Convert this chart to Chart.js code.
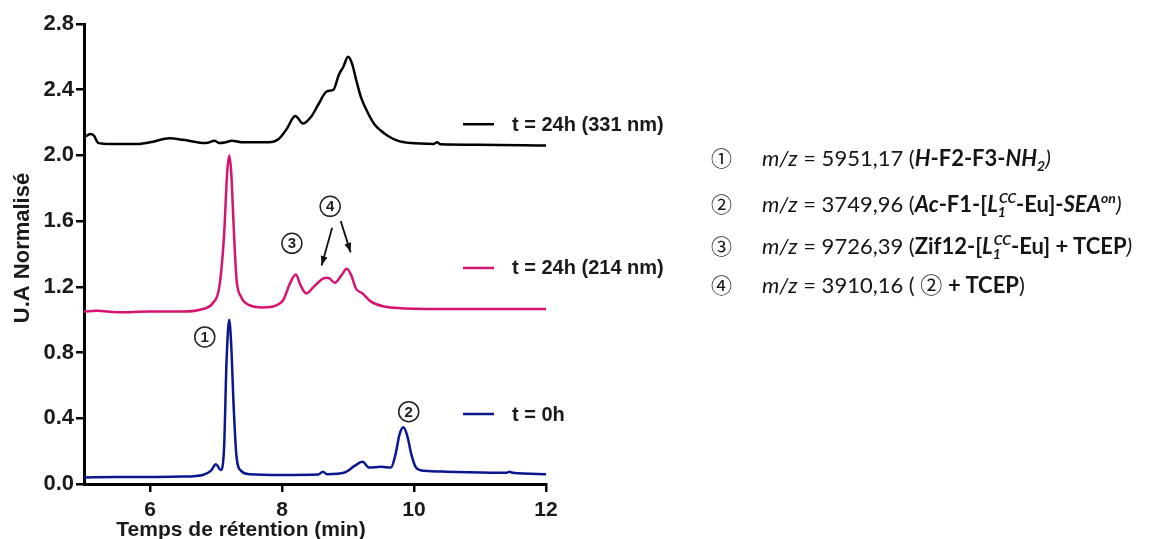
<!DOCTYPE html>
<html>
<head>
<meta charset="utf-8">
<script src="https://cdn.jsdelivr.net/npm/chart.js@4.4.1/dist/chart.umd.min.js"></script>
<style>
  body { margin: 0; background: #fff; }
  #wrap { position: relative; width: 1164px; height: 539px; }
  #chromato { position: absolute; left: 0; top: 0; }
  .mz { position: absolute; left: 711px; font-family: Lato, "Open Sans", sans-serif; font-size: 22px; color: #151515; line-height: 28px; white-space: nowrap; }
  .mz .num { display: inline-block; width: 51px; font-family: "Noto Sans CJK JP", "DejaVu Sans", sans-serif; font-size: 21px; }
  .mz sub, .mz sup { font-size: 14px; }
  .mz sup { vertical-align: 9px; }
  .mz sub { vertical-align: -5px; }
  .mz .stack sup { margin-left: -7px; }
</style>
</head>
<body>
<div id="wrap">
  <canvas id="chromato" width="1164" height="539"></canvas>
  <div class="mz" style="top:143px"><span class="num">①</span><i>m/z</i> = 5951,17 (<b><i>H</i>-F2-F3-<i>NH<sub>2</sub></i></b><i>)</i></div>
  <div class="mz" style="top:184px"><span class="num">②</span><i>m/z</i> = 3749,96 (<b><i>Ac</i>-F1-[<i>L<span class="stack"><sub>1</sub><sup>CC</sup></span></i>-Eu]-<i>SEA<sup>on</sup></i></b><i>)</i></div>
  <div class="mz" style="top:226px"><span class="num">③</span><i>m/z</i> = 9726,39 (<b>Zif12-[<i>L<span class="stack"><sub>1</sub><sup>CC</sup></span></i>-Eu] + TCEP</b><i>)</i></div>
  <div class="mz" style="top:269px"><span class="num">④</span><i>m/z</i> = 3910,16 ( <span style="font-family:'Noto Sans CJK JP'">②</span> <b>+ TCEP</b>)</div>
</div>
<script>
// retention time (min) and normalised absorbance for each trace
const times331 = [5.00, 5.10, 5.15, 5.22, 5.40, 5.80, 6.00, 6.30, 6.50, 6.85, 6.98, 7.05, 7.15, 7.24, 7.40, 7.80, 7.95, 8.07, 8.20, 8.32, 8.45, 8.55, 8.68, 8.78, 8.86, 8.93, 9.00, 9.06, 9.13, 9.20, 9.30, 9.40, 9.50, 9.60, 9.75, 9.95, 10.30, 10.35, 10.40, 11.00, 12.00];
const ua331 = [2.11, 2.13, 2.12, 2.075, 2.07, 2.07, 2.08, 2.105, 2.095, 2.075, 2.09, 2.075, 2.08, 2.09, 2.08, 2.08, 2.10, 2.16, 2.24, 2.195, 2.24, 2.31, 2.39, 2.40, 2.49, 2.54, 2.60, 2.56, 2.45, 2.35, 2.26, 2.19, 2.15, 2.12, 2.09, 2.075, 2.07, 2.08, 2.068, 2.065, 2.06];

const times214 = [5.00, 5.20, 5.50, 6.00, 6.50, 6.80, 6.95, 7.05, 7.12, 7.17, 7.20, 7.23, 7.27, 7.31, 7.38, 7.50, 7.70, 7.90, 8.02, 8.12, 8.21, 8.28, 8.37, 8.48, 8.62, 8.70, 8.80, 8.90, 8.98, 9.05, 9.12, 9.22, 9.35, 9.55, 9.80, 10.50, 11.50, 12.00];
const ua214 = [1.05, 1.055, 1.045, 1.05, 1.05, 1.065, 1.10, 1.20, 1.50, 1.90, 2.00, 1.90, 1.55, 1.25, 1.14, 1.09, 1.075, 1.085, 1.12, 1.22, 1.275, 1.21, 1.16, 1.20, 1.25, 1.255, 1.225, 1.27, 1.31, 1.27, 1.19, 1.16, 1.11, 1.08, 1.07, 1.065, 1.065, 1.065];

const times0 = [5.00, 5.50, 6.00, 6.50, 6.80, 6.92, 7.00, 7.07, 7.12, 7.16, 7.20, 7.23, 7.27, 7.31, 7.38, 7.50, 8.00, 8.55, 8.62, 8.68, 8.95, 9.10, 9.22, 9.32, 9.50, 9.65, 9.72, 9.78, 9.84, 9.90, 9.96, 10.03, 10.15, 10.50, 11.40, 11.45, 11.50, 12.00];
const ua0 = [0.04, 0.042, 0.043, 0.045, 0.055, 0.08, 0.12, 0.085, 0.20, 0.75, 1.00, 0.85, 0.45, 0.17, 0.08, 0.06, 0.055, 0.058, 0.075, 0.06, 0.07, 0.11, 0.135, 0.10, 0.105, 0.10, 0.18, 0.30, 0.345, 0.29, 0.18, 0.10, 0.08, 0.075, 0.068, 0.075, 0.068, 0.06];

const seriesLabels = ["t = 24h (331 nm)", "t = 24h (214 nm)", "t = 0h"];
const xTicks = [6, 8, 10, 12];
const yTicks = [0, 0.4, 0.8, 1.2, 1.6, 2.0, 2.4, 2.8];
const peakNames = ["1", "2", "3", "4"];

// where the small legends and peak marks sit (data units)
const legendAt = [2.19, 1.315, 0.426];
const peakAt = [[6.83, 0.895], [9.92, 0.44], [8.15, 1.465], [8.73, 1.69]];
const arrows = [[[8.76, 1.56], [8.60, 1.33]], [[8.89, 1.60], [9.04, 1.41]]];

const colors = ["#000000", "#d5146f", "#0b178c"];
const font = '"Liberation Sans", Arial, sans-serif';

function pts(xs, ys) {
  return xs.map((t, i) => ({ x: t, y: ys[i] }));
}

const decor = {
  id: "decor",
  afterDraw(chart) {
    const ctx = chart.ctx;
    const x = chart.scales.x;
    const y = chart.scales.y;
    ctx.save();

    // legends next to each trace
    chart.data.datasets.forEach((ds, i) => {
      const py = y.getPixelForValue(legendAt[i]);
      ctx.strokeStyle = ds.borderColor;
      ctx.lineWidth = 2.5;
      ctx.beginPath();
      ctx.moveTo(463, py);
      ctx.lineTo(494, py);
      ctx.stroke();
      ctx.fillStyle = "#1a1a1a";
      ctx.font = "bold 20px " + font;
      ctx.textAlign = "left";
      ctx.textBaseline = "middle";
      ctx.fillText(ds.label, 512, py + 1);
    });

    // circled peak numbers
    peakAt.forEach((p, i) => {
      const cx = x.getPixelForValue(p[0]);
      const cy = y.getPixelForValue(p[1]);
      ctx.strokeStyle = "#222";
      ctx.lineWidth = 1.5;
      ctx.beginPath();
      ctx.arc(cx, cy, 10, 0, Math.PI * 2);
      ctx.stroke();
      ctx.fillStyle = "#222";
      ctx.font = "bold 15px " + font;
      ctx.textAlign = "center";
      ctx.textBaseline = "middle";
      ctx.fillText(peakNames[i], cx, cy + 1);
    });

    // arrows from peak 4
    arrows.forEach(a => {
      const x1 = x.getPixelForValue(a[0][0]), y1 = y.getPixelForValue(a[0][1]);
      const x2 = x.getPixelForValue(a[1][0]), y2 = y.getPixelForValue(a[1][1]);
      ctx.strokeStyle = "#111";
      ctx.lineWidth = 1.8;
      ctx.beginPath();
      ctx.moveTo(x1, y1);
      ctx.lineTo(x2, y2);
      ctx.stroke();
      const ang = Math.atan2(y2 - y1, x2 - x1);
      ctx.fillStyle = "#111";
      ctx.beginPath();
      ctx.moveTo(x2, y2);
      ctx.lineTo(x2 - 10 * Math.cos(ang - 0.35), y2 - 10 * Math.sin(ang - 0.35));
      ctx.lineTo(x2 - 10 * Math.cos(ang + 0.35), y2 - 10 * Math.sin(ang + 0.35));
      ctx.closePath();
      ctx.fill();
    });

    // axis titles
    ctx.fillStyle = "#1a1a1a";
    ctx.font = "bold 21px " + font;
    ctx.textAlign = "center";
    ctx.textBaseline = "alphabetic";
    ctx.fillText("Temps de rétention (min)", chart.chartArea.left + 157, 536);

    ctx.font = "bold 22px " + font;
    ctx.translate(23, 248);
    ctx.rotate(-Math.PI / 2);
    ctx.textBaseline = "middle";
    ctx.fillText("U.A Normalisé", 0, 0);
    ctx.restore();
  }
};

new Chart("chromato", {
  type: "line",
  data: {
    datasets: [
      { label: seriesLabels[0], data: pts(times331, ua331), borderColor: colors[0] },
      { label: seriesLabels[1], data: pts(times214, ua214), borderColor: colors[1] },
      { label: seriesLabels[2], data: pts(times0, ua0), borderColor: colors[2] }
    ]
  },
  options: {
    responsive: false,
    animation: false,
    parsing: false,
    elements: {
      point: { radius: 0 },
      line: { borderWidth: 2.5, cubicInterpolationMode: "monotone", fill: false }
    },
    layout: { padding: { left: 0, top: 24, right: 618, bottom: 0 } },
    plugins: { legend: { display: false }, tooltip: { enabled: false } },
    scales: {
      x: {
        type: "linear",
        min: 5,
        max: 12,
        afterBuildTicks: s => { s.ticks = xTicks.map(v => ({ value: v })); },
        afterFit: s => { s.height = 55; },
        grid: { drawOnChartArea: false, drawTicks: true, tickLength: 8, color: "#000", lineWidth: 2.5 },
        border: { color: "#000", width: 3 },
        ticks: { color: "#1a1a1a", font: { family: font, size: 21, weight: "bold" }, padding: 6, maxRotation: 0 }
      },
      y: {
        min: 0,
        max: 2.8,
        afterBuildTicks: s => { s.ticks = yTicks.map(v => ({ value: v })); },
        afterFit: s => { s.width = 84; },
        grid: { drawOnChartArea: false, drawTicks: true, tickLength: 8, color: "#000", lineWidth: 2.5 },
        border: { color: "#000", width: 3 },
        ticks: { color: "#1a1a1a", font: { family: font, size: 22, weight: "bold" }, padding: 2, callback: v => v.toFixed(1) }
      }
    }
  },
  plugins: [decor]
});
</script>
</body>
</html>
